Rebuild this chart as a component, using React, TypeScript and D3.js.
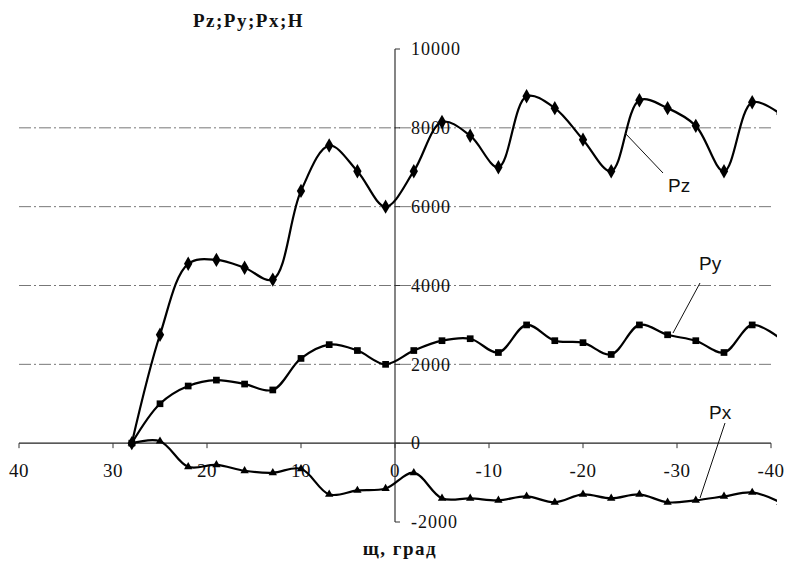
import React, { useEffect, useRef } from "react";
import * as d3 from "d3";

// angle, degrees (step 3)
const angles = [28, 25, 22, 19, 16, 13, 10, 7, 4, 1, -2, -5, -8, -11, -14, -17, -20, -23, -26, -29, -32, -35, -38, -41];

const pz = [0, 2750, 4550, 4650, 4450, 4150, 6400, 7550, 6900, 6000, 6900, 8150, 7800, 7000, 8800, 8500, 7700, 6900, 8700, 8500, 8050, 6900, 8650, 8350];
const py = [0, 1000, 1450, 1600, 1500, 1350, 2150, 2500, 2350, 2000, 2350, 2600, 2650, 2300, 3000, 2600, 2550, 2250, 3000, 2750, 2600, 2300, 3000, 2650];
const px = [0, 50, -600, -550, -700, -750, -650, -1300, -1200, -1150, -750, -1400, -1400, -1450, -1350, -1500, -1300, -1400, -1300, -1500, -1450, -1350, -1250, -1500];

const xTicks = [40, 30, 20, 10, 0, -10, -20, -30, -40];
const yTicks = [-2000, 0, 2000, 4000, 6000, 8000, 10000];
const gridValues = [0, 2000, 4000, 6000, 8000];

const serif = "'Liberation Serif', 'Times New Roman', serif";

function App() {
	const ref = useRef<SVGSVGElement>(null);

	useEffect(() => {
		const svg = d3.select(ref.current);
		svg.selectAll("*").remove();

		const x = d3.scaleLinear().domain([40, -40]).range([19, 771]);
		const y = d3.scaleLinear().domain([-2000, 10000]).range([522, 49]);
		const x0 = x(0);

		svg
			.append("defs")
			.append("clipPath")
			.attr("id", "plotClip")
			.append("rect")
			.attr("x", 0)
			.attr("y", 0)
			.attr("width", 777)
			.attr("height", 567);

		// gridlines
		svg
			.selectAll(".grid")
			.data(gridValues)
			.join("line")
			.attr("x1", x(40))
			.attr("x2", x(-40))
			.attr("y1", (d) => y(d))
			.attr("y2", (d) => y(d))
			.attr("stroke", (d) => (d === 0 ? "#222" : "#777"))
			.attr("stroke-width", (d) => (d === 0 ? 1.3 : 1))
			.attr("stroke-dasharray", (d) => (d === 0 ? null : "12 3 2 3"));

		// x ticks
		svg
			.selectAll(".xtick")
			.data(xTicks)
			.join("line")
			.attr("x1", (d) => x(d))
			.attr("x2", (d) => x(d))
			.attr("y1", y(0))
			.attr("y2", y(0) + 5)
			.attr("stroke", "#333");

		svg
			.selectAll(".xlabel")
			.data(xTicks)
			.join("text")
			.attr("x", (d) => x(d))
			.attr("y", y(0) + 34)
			.attr("text-anchor", "middle")
			.attr("font-family", serif)
			.attr("font-size", 19)
			.attr("letter-spacing", 0.5)
			.attr("fill", "#111")
			.text((d) => d);

		// y axis
		svg
			.append("line")
			.attr("x1", x0)
			.attr("x2", x0)
			.attr("y1", y(10000))
			.attr("y2", y(-2000))
			.attr("stroke", "#333")
			.attr("stroke-width", 1.2);

		svg
			.selectAll(".ytick")
			.data(yTicks)
			.join("line")
			.attr("x1", x0)
			.attr("x2", x0 + 5)
			.attr("y1", (d) => y(d))
			.attr("y2", (d) => y(d))
			.attr("stroke", "#333");

		svg
			.selectAll(".ylabel")
			.data(yTicks)
			.join("text")
			.attr("x", x0 + 16)
			.attr("y", (d) => y(d))
			.attr("dy", "0.35em")
			.attr("font-family", serif)
			.attr("font-size", 18)
			.attr("letter-spacing", 1)
			.attr("fill", "#111")
			.text((d) => d);

		// series
		const series = [
			{ key: "pz", values: pz, marker: d3.symbolDiamond, size: 60 },
			{ key: "py", values: py, marker: d3.symbolSquare, size: 45 },
			{ key: "px", values: px, marker: d3.symbolTriangle, size: 30 },
		];

		const line = d3
			.line<[number, number]>()
			.x((d) => x(d[0]))
			.y((d) => y(d[1]))
			.curve(d3.curveCatmullRom.alpha(0.5));

		const plot = svg.append("g").attr("clip-path", "url(#plotClip)");

		series.forEach((s) => {
			const pts: [number, number][] = angles.map((a, i) => [a, s.values[i]]);
			plot
				.append("path")
				.attr("d", line(pts))
				.attr("fill", "none")
				.attr("stroke", "#000")
				.attr("stroke-width", 2.2);

			plot
				.selectAll(".m-" + s.key)
				.data(pts)
				.join("path")
				.attr("d", d3.symbol().type(s.marker).size(s.size)())
				.attr("transform", (d) => `translate(${x(d[0])},${y(d[1])})`)
				.attr("fill", "#000");
		});

		// leader labels
		const labels = [
			{ text: "Pz", tx: 668, ty: 192, lx1: 663, ly1: 173, lx2: 625, ly2: 133 },
			{ text: "Py", tx: 699, ty: 270, lx1: 700, ly1: 283, lx2: 673, ly2: 333 },
			{ text: "Px", tx: 709, ty: 419, lx1: 725, ly1: 423, lx2: 700, ly2: 498 },
		];

		svg
			.selectAll(".leader")
			.data(labels)
			.join("line")
			.attr("x1", (d) => d.lx1)
			.attr("y1", (d) => d.ly1)
			.attr("x2", (d) => d.lx2)
			.attr("y2", (d) => d.ly2)
			.attr("stroke", "#111")
			.attr("stroke-width", 1);

		svg
			.selectAll(".seriesLabel")
			.data(labels)
			.join("text")
			.attr("x", (d) => d.tx)
			.attr("y", (d) => d.ty)
			.attr("font-family", "'Liberation Sans', Arial, sans-serif")
			.attr("font-size", 19)
			.attr("fill", "#111")
			.text((d) => d.text);

		// titles
		svg
			.append("text")
			.attr("x", 193)
			.attr("y", 27)
			.attr("font-family", serif)
			.attr("font-weight", "bold")
			.attr("font-size", 19)
			.attr("letter-spacing", 1.5)
			.attr("fill", "#111")
			.text("Pz;Py;Px;H");

		svg
			.append("text")
			.attr("x", 400)
			.attr("y", 555)
			.attr("text-anchor", "middle")
			.attr("font-family", serif)
			.attr("font-weight", "bold")
			.attr("font-size", 19)
			.attr("letter-spacing", 1.5)
			.attr("fill", "#111")
			.text("щ, град");
	}, []);

	return (
		<svg
			ref={ref}
			width={785}
			height={567}
			style={{ position: "absolute", left: 0, top: 0, background: "#fff" }}
		/>
	);
}

export default App;
